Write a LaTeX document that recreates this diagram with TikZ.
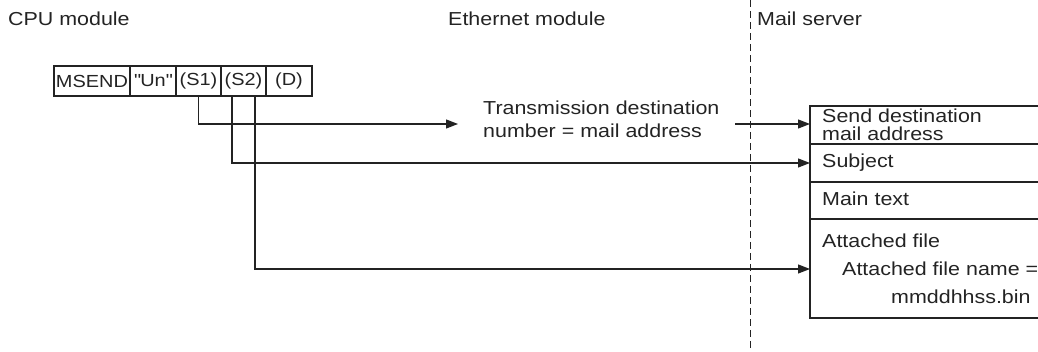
\documentclass[tikz,border=0pt]{standalone}
\usepackage{fontspec}
\setmainfont[FakeStretch=1.14]{Liberation Sans}
\usetikzlibrary{arrows.meta}
\definecolor{ink}{HTML}{232323}
\newcommand{\sq}{\XeTeXglyph\XeTeXglyphindex"quotedbl"\relax}
\begin{document}
\begin{tikzpicture}[x=1pt,y=-1pt,
  every node/.style={font=\fontsize{18.8}{23}\selectfont, text=ink, inner sep=0pt},
  txt/.style={anchor=base west},
  cell/.style={draw=ink, line width=1.2pt, minimum height=30pt, font=\fontsize{17.5}{21}\selectfont},
  conn/.style={draw=ink, line width=1.2pt},
  arr/.style={conn, -{Triangle[length=12pt,width=9pt]}},
  sep/.style={draw=ink, line width=0.7pt, dash pattern=on 7pt off 4pt}]
\useasboundingbox (0,0) rectangle (1038,352);
% headings
\node[txt] (cpu) at (8,26) {CPU module};
\node[txt] (eth) at (448,26) {Ethernet module};
\node[txt] (mail) at (757,26) {Mail server};
\coordinate (septop) at (750,0);
\coordinate (sepbot) at (750,352);
\draw[sep] (septop) -- (sepbot);
% instruction cells
\node[cell, minimum width=76pt] (msend) at (92,81) {MSEND};
\node[cell, minimum width=46pt] (un) at (153,81) {\sq Un\sq};
\node[cell, minimum width=45pt] (s1) at (198.5,81) {(S1)};
\node[cell, minimum width=45pt] (s2) at (243.5,81) {(S2)};
\node[cell, minimum width=46pt] (d) at (289,81) {(D)};
% Ethernet text
\node[txt] (trans1) at (483,115) {Transmission destination};
\node[txt] (trans2) at (483,138) {number = mail address};
\coordinate (t1) at (458,124);
\coordinate (eout) at (735,124);
% mail server box
\coordinate (r1) at (810,124);
\coordinate (r2) at (810,163);
\coordinate (r3) at (810,269);
\draw[conn] (1038,106) -- (810,106) -- (810,318) -- (1038,318);
\draw[conn] (810,144) -- (1038,144);
\draw[conn] (810,182) -- (1038,182);
\draw[conn] (810,219) -- (1038,219);
\node[txt] (sd1) at (822,122.5) {Send destination};
\node[txt] (sd2) at (822,141) {mail address};
\node[txt] (subj) at (822,168) {Subject};
\node[txt] (main) at (822,206) {Main text};
\node[txt] (att) at (822,248) {Attached file};
\node[txt] (attn) at (842,276) {Attached file name =};
\node[txt] (mmdd) at (891,304) {mmddhhss.bin};
% connectors
\draw[arr] (s1.south) |- (t1);
\draw[arr] ([xshift=-11.5pt]s2.south) |- (r2);
\draw[arr] ([xshift=11.5pt]s2.south) |- (r3);
\draw[arr] (eout) -- (r1);
\end{tikzpicture}
\end{document}
